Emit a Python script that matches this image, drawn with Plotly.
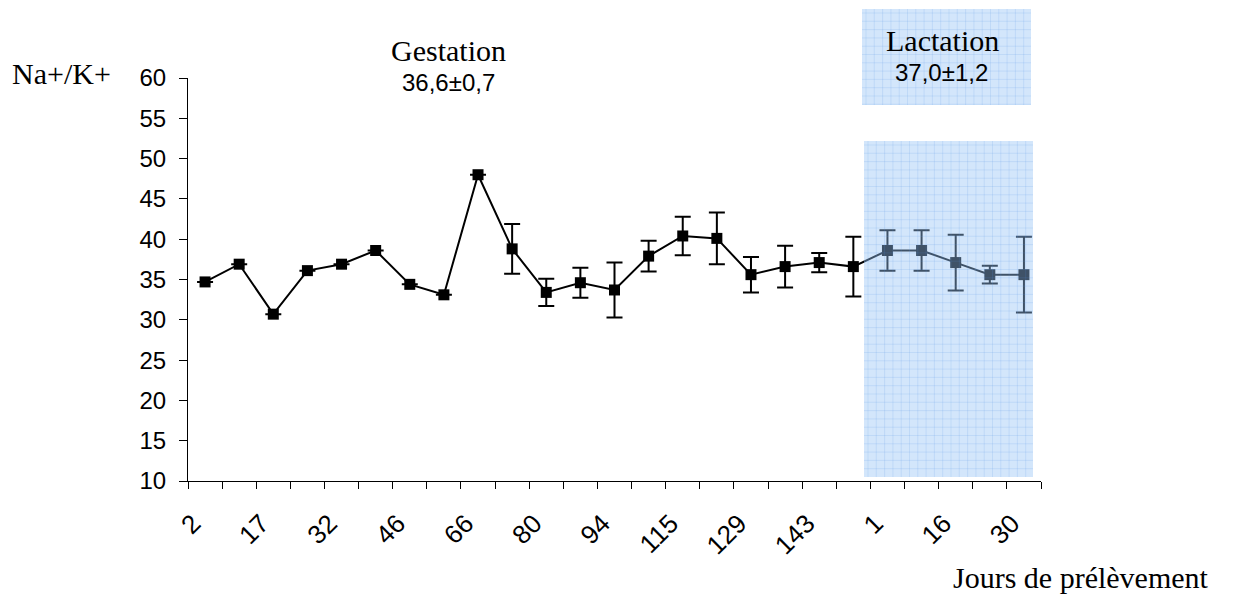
import plotly.graph_objects as go

# ---- data ----
days = ["2", "9", "17", "24", "32", "39", "46", "59", "66", "73", "80", "87", "94",
        "108", "115", "122", "129", "136", "143", "150", "1", "8", "16", "23", "30"]
shown_days = ["2", "17", "32", "46", "66", "80", "94", "115", "129", "143", "1", "16", "30"]
na_k = [34.7, 36.9, 30.7, 36.1, 36.9, 38.6, 34.4, 33.1, 48.0, 38.8, 33.4, 34.6, 33.7,
        37.9, 40.4, 40.1, 35.6, 36.6, 37.1, 36.6, 38.6, 38.6, 37.1, 35.6, 35.6]
err = [None, None, None, None, None, None, None, None, None, 3.1, 1.7, 1.85, 3.4,
       1.9, 2.4, 3.2, 2.2, 2.6, 1.2, 3.7, 2.5, 2.5, 3.45, 1.1, 4.7]
y_ticks = [10, 15, 20, 25, 30, 35, 40, 45, 50, 55, 60]

W, H = 1234, 598
L, R, T, B = 188, 193, 78, 117
PW, PH = W - L - R, H - T - B

def px(x):
    return (x - L) / PW

def py(y):
    return (H - B - y) / PH

SERIF = "Liberation Serif, Times New Roman, serif"
SANS = "Liberation Sans, Arial, sans-serif"

idx = list(range(len(days)))
tick_idx = [i for i, d in enumerate(days) if i % 2 == 0]

fig = go.Figure()
fig.add_trace(go.Scatter(
    x=idx, y=na_k, mode="lines+markers",
    line=dict(color="black", width=2),
    marker=dict(symbol="square", size=11, color="black", line=dict(width=0)),
    error_y=dict(type="data", array=[e if e is not None else 0 for e in err],
                 visible=True, color="black", thickness=2, width=8),
    showlegend=False, hoverinfo="skip",
))

shapes = []
fill = "rgba(150,195,245,0.42)"
gridc = "rgba(90,150,230,0.16)"

def shaded(x0, x1, y0, y1, layer):
    shapes.append(dict(type="rect", xref="paper", yref="paper",
                       x0=px(x0), x1=px(x1), y0=py(y1), y1=py(y0),
                       fillcolor=fill, line=dict(width=0), layer=layer))
    xx = x0 + 4
    while xx < x1:
        shapes.append(dict(type="line", xref="paper", yref="paper",
                           x0=px(xx), x1=px(xx), y0=py(y1), y1=py(y0),
                           line=dict(color=gridc, width=1), layer=layer))
        xx += 8.3
    yy = y0 + 4
    while yy < y1:
        shapes.append(dict(type="line", xref="paper", yref="paper",
                           x0=px(x0), x1=px(x1), y0=py(yy), y1=py(yy),
                           line=dict(color=gridc, width=1), layer=layer))
        yy += 8.3

shaded(864, 1033, 141, 477, "above")
shaded(862, 1031, 9, 105, "below")

ann = [
    dict(text="Na+/K+", x=px(61), y=py(73), font=dict(family=SERIF, size=30)),
    dict(text="Gestation", x=px(448), y=py(51), font=dict(family=SERIF, size=30)),
    dict(text="36,6±0,7", x=px(448), y=py(82), font=dict(family=SANS, size=24)),
    dict(text="Lactation", x=px(942), y=py(40), font=dict(family=SERIF, size=30)),
    dict(text="37,0±1,2", x=px(941), y=py(72), font=dict(family=SANS, size=24)),
    dict(text="Jours de prélèvement", x=px(1081), y=py(577), font=dict(family=SERIF, size=30)),
]
for a in ann:
    a.update(xref="paper", yref="paper", showarrow=False, xanchor="center", yanchor="middle")
    a["font"]["color"] = "black"

fig.update_layout(
    width=W, height=H,
    margin=dict(l=L, r=R, t=T, b=B, pad=0),
    paper_bgcolor="white", plot_bgcolor="white",
    shapes=shapes, annotations=ann,
    xaxis=dict(
        range=[-0.5, len(days) - 0.5],
        tickvals=tick_idx, ticktext=shown_days,
        ticks="", tickangle=-45, ticklabelstandoff=16, ticklabelshift=-12,
        tickfont=dict(family=SANS, size=26, color="black"),
        showline=True, linecolor="black", linewidth=1,
        showgrid=False, zeroline=False,
        minor=dict(tick0=-0.5, dtick=1, ticks="outside", ticklen=7,
                   tickcolor="black", tickwidth=1, showgrid=False),
    ),
    yaxis=dict(
        range=[10, 60], tickvals=y_ticks,
        ticks="outside", ticklen=8, tickcolor="black", tickwidth=1,
        ticklabelstandoff=8,
        tickfont=dict(family=SANS, size=24, color="black"),
        showline=True, linecolor="black", linewidth=1,
        showgrid=False, zeroline=False,
    ),
)

fig.write_html("out.html")
